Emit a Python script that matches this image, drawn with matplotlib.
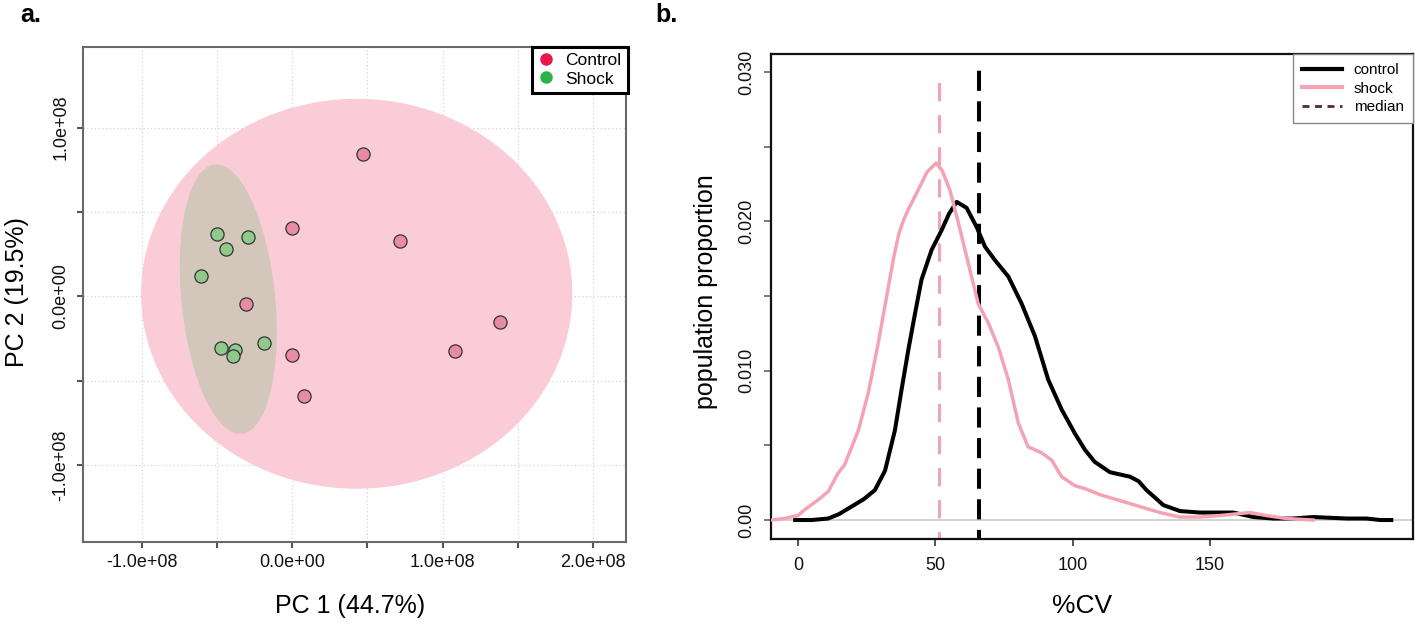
import matplotlib
matplotlib.use("Agg")
import matplotlib.pyplot as plt
from matplotlib.patches import Ellipse
from matplotlib.lines import Line2D
import numpy as np

plt.rcParams['font.family'] = ['Liberation Sans', 'DejaVu Sans']

# ---- panel a: PCA scores (units of 1e8) ----
control_pc1 = [0.474, 0.000, 0.716, -0.307, 1.381, 1.085, 0.002, 0.078]
control_pc2 = [0.843, 0.406, 0.325, -0.043, -0.153, -0.326, -0.347, -0.590]
shock_pc1 = [-0.502, -0.291, -0.441, -0.607, -0.472, -0.383, -0.391, -0.185]
shock_pc2 = [0.368, 0.351, 0.282, 0.118, -0.307, -0.317, -0.355, -0.279]
# confidence ellipses: centre, full axes, angle
control_ell = dict(center=(0.429, 0.015), width=2.868, height=2.312, angle=0.0)
shock_ell = dict(center=(-0.425, -0.017), width=1.607, height=0.622, angle=96.6)
pc_labels = ['PC 1 (44.7%)', 'PC 2 (19.5%)']
pca_xticks = [-1.0, -0.5, 0.0, 0.5, 1.0, 1.5, 2.0]
pca_xticklabels = ['-1.0e+08', '', '0.0e+00', '', '1.0e+08', '', '2.0e+08']
pca_yticks = [-1.0, -0.5, 0.0, 0.5, 1.0]
pca_yticklabels = ['-1.0e+08', '', '0.0e+00', '', '1.0e+08']

# ---- panel b: %CV density ----
shock_cv = [-9.5, -5, 0, 2.5, 7, 11, 14.5, 17, 22, 25.6, 29.2, 32.9, 35, 36.8, 38.5, 40.2,
            43.8, 47, 50.3, 52.5, 55.3, 58.4, 62, 65.6, 69.3, 72.9, 76.6, 80.2, 83.8, 88.7,
            92.4, 96, 100.8, 104.5, 109.9, 117.2, 124.5, 131.8, 139, 146.3, 153.6,
            159, 164.5, 170.6, 177.9, 187.5]
shock_dens = [0.0, 0.0001, 0.0003, 0.0007, 0.0013, 0.0019, 0.0031, 0.0037, 0.006, 0.0085,
              0.0118, 0.0156, 0.0177, 0.0192, 0.0201, 0.0208, 0.0221, 0.0233, 0.0239,
              0.0234, 0.0221, 0.0199, 0.0172, 0.0145, 0.0132, 0.0116, 0.0094, 0.0065,
              0.0049, 0.0045, 0.004, 0.0029, 0.0023, 0.0021, 0.0017, 0.0013, 0.0009,
              0.0005, 0.0002, 0.0002, 0.0003, 0.0004, 0.0005, 0.0003, 0.0001, 0.0]
control_cv = [-1, 5, 11, 15, 19.5, 24, 28, 31.7, 35.3, 37.7, 40.2, 42.6, 45, 48.7, 52.3,
              55, 57.8, 61.4, 65.1, 68.1, 71.7, 76.6, 81.4, 86.3, 91.1, 96, 100.8, 104.5,
              108, 113.6, 120.9, 124, 126.9, 130, 133, 139.1, 146.3, 158.5, 165.8, 173.1,
              180, 187.6, 200, 207, 212, 216]
control_dens = [0, 0, 0.0001, 0.0004, 0.0009, 0.0014, 0.002, 0.0033, 0.006, 0.0087, 0.0114,
                0.0138, 0.0161, 0.0181, 0.0194, 0.0205, 0.0213, 0.0209, 0.0196, 0.0183,
                0.0174, 0.0163, 0.0145, 0.0123, 0.0094, 0.0074, 0.0058, 0.0047, 0.0039,
                0.0032, 0.0029, 0.0026, 0.002, 0.0015, 0.001, 0.0006, 0.0005, 0.0005,
                0.0002, 0.0001, 0.0001, 0.0002, 0.0001, 0.0001, 0.0, 0.0]
medians = {'shock': 51.3, 'control': 66.0}
cv_xticks = [0, 50, 100, 150]
cv_yticks = [0.0, 0.005, 0.010, 0.015, 0.020, 0.025, 0.030]
cv_yticklabels = ['0.00', '', '0.010', '', '0.020', '', '0.030']

pink = '#f4a3b5'
W, H = 1415, 628
fig = plt.figure(figsize=(W / 100, H / 100), dpi=100)

# ================= panel a =================
ax1 = fig.add_axes([82.7 / W, (H - 541.7) / H, (626 - 82.7) / W, (541.7 - 46.7) / H])
ax1.set_xlim(-1.393, 2.22)
ax1.set_ylim(-1.455, 1.48)
ax1.set_axisbelow(True)
ax1.grid(True, color='#d4d4d4', linestyle=(0, (1, 2)), linewidth=0.9)

ax1.add_patch(Ellipse(control_ell['center'], control_ell['width'], control_ell['height'],
                      angle=control_ell['angle'], facecolor='#f9ccd8', edgecolor='none', zorder=1))
ax1.add_patch(Ellipse(shock_ell['center'], shock_ell['width'], shock_ell['height'],
                      angle=shock_ell['angle'], facecolor='#d3c7bb', edgecolor='none', zorder=2))
ax1.scatter(control_pc1, control_pc2, s=90, facecolor='#e98ba6', edgecolor='#333333',
            linewidth=0.9, zorder=3)
ax1.scatter(shock_pc1, shock_pc2, s=90, facecolor='#8fca8b', edgecolor='#333333',
            linewidth=0.9, zorder=3)

ax1.set_xticks(pca_xticks)
ax1.set_xticklabels(pca_xticklabels)
ax1.set_yticks(pca_yticks)
ax1.set_yticklabels(pca_yticklabels, rotation=90, va='center')
ax1.tick_params(axis='both', labelsize=13, color='#555555', width=1.5, length=4.5,
                labelcolor='#111111')
ax1.tick_params(axis='x', pad=4)
ax1.tick_params(axis='y', pad=5)
for sp in ax1.spines.values():
    sp.set_color('#6a6a6a')
    sp.set_linewidth(1.5)

leg1 = ax1.legend(handles=[Line2D([], [], marker='o', linestyle='none', color='#e8184b', ms=8),
                           Line2D([], [], marker='o', linestyle='none', color='#2db24a', ms=8)],
                  labels=['Control', 'Shock'], loc='upper right', bbox_to_anchor=(1.003, 1.0),
                  borderaxespad=0, fontsize=12.5, handlelength=1.0, handletextpad=0.6,
                  borderpad=0.35, labelspacing=0.2, fancybox=False, framealpha=1)
leg1.get_frame().set_edgecolor('black')
leg1.get_frame().set_linewidth(2.2)

# ================= panel b =================
ax2 = fig.add_axes([771 / W, (H - 539) / H, (1413 - 771) / W, (539 - 54) / H])
ax2.set_xlim(-9.8, 223.9)
ax2.set_ylim(-0.00127, 0.0312)
ax2.axhline(0, color='#cccccc', linewidth=1.2, zorder=1)
ax2.plot(control_cv, control_dens, color='black', linewidth=2.9, zorder=3)
ax2.plot(shock_cv, shock_dens, color=pink, linewidth=2.5, zorder=3)
ax2.vlines(medians['shock'], -0.002, 0.0301, colors=pink, linewidth=2.2,
           linestyles=(0, (6, 4.5)), zorder=2)
ax2.vlines(medians['control'], -0.002, 0.0301, colors='black', linewidth=2.9,
           linestyles=(0, (5, 2.6)), zorder=2)

ax2.set_xticks(cv_xticks)
ax2.set_yticks(cv_yticks)
ax2.set_yticklabels(cv_yticklabels, rotation=90, va='center')
ax2.tick_params(axis='both', labelsize=13, width=1.2, length=5, labelcolor='#111111')
ax2.tick_params(axis='y', color='#666666', pad=6)
ax2.tick_params(axis='x', color='#333333', pad=8)
for sp in ax2.spines.values():
    sp.set_color('#111111')
    sp.set_linewidth(1.6)

leg2 = ax2.legend(handles=[Line2D([], [], color='black', linewidth=3),
                           Line2D([], [], color=pink, linewidth=3),
                           Line2D([], [], color='#5a2a2a', linewidth=2, linestyle=(0, (2.5, 2)))],
                  labels=['control', 'shock', 'median'], loc='upper right',
                  bbox_to_anchor=(1.0, 1.0), borderaxespad=0, fontsize=11,
                  handlelength=2.6, handletextpad=0.8, borderpad=0.6, labelspacing=0.3,
                  fancybox=False, framealpha=1)
leg2.get_frame().set_edgecolor('#888888')
leg2.get_frame().set_linewidth(1.0)

# ================= figure texts =================
fig.text(20 / W, 1 - 15 / H, 'a.', fontsize=18, fontweight='bold', ha='left', va='center')
fig.text(655 / W, 1 - 15 / H, 'b.', fontsize=18, fontweight='bold', ha='left', va='center')
fig.text(350 / W, 1 - 606 / H, pc_labels[0], fontsize=18, ha='center', va='center')
fig.text(17 / W, 1 - 292 / H, pc_labels[1], fontsize=18, ha='center', va='center', rotation=90)
fig.text(706 / W, 1 - 292 / H, 'population proportion', fontsize=18, ha='center',
         va='center', rotation=90)
fig.text(1082 / W, 1 - 606 / H, '%CV', fontsize=19, ha='center', va='center')

fig.savefig('out.png', dpi=100)
